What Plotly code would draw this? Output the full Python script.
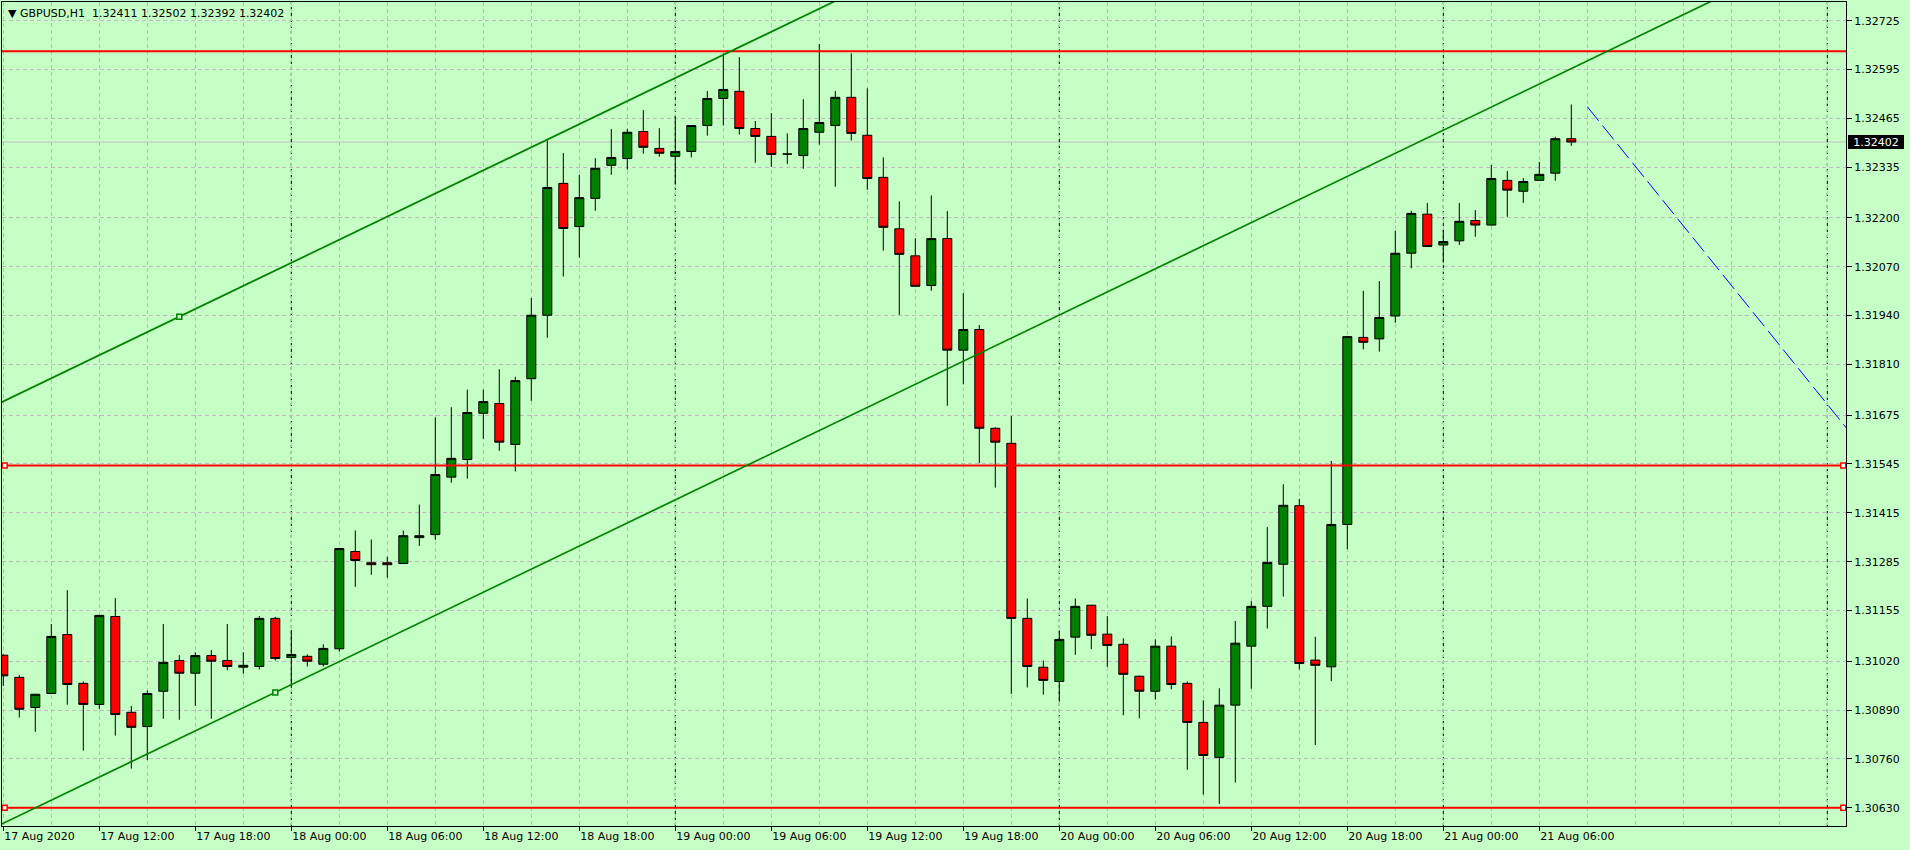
import pandas as pd
import plotly.graph_objects as go

# ---------------- data ----------------
title_text = "\u25BC GBPUSD,H1\u00a0\u00a01.32411 1.32502 1.32392 1.32402"
first_bar_time = "2020-08-17 06:00"

open_ = [1.31036, 1.30977, 1.30897, 1.30934, 1.31091, 1.30961, 1.30905, 1.31139, 1.30884, 1.30846,
         1.30940, 1.31022, 1.30988, 1.31035, 1.31022, 1.31004, 1.31006, 1.31134, 1.31030, 1.31033,
         1.31012, 1.31053, 1.31312, 1.31282, 1.31282, 1.31280, 1.31349, 1.31357, 1.31510, 1.31557,
         1.31680, 1.31706, 1.31597, 1.31772, 1.31941, 1.32292, 1.32177, 1.32252, 1.32340, 1.32358,
         1.32430, 1.32385, 1.32364, 1.32377, 1.32446, 1.32518, 1.32537, 1.32438, 1.32417, 1.32370,
         1.32366, 1.32428, 1.32446, 1.32521, 1.32420, 1.32308, 1.32171, 1.32099, 1.32020, 1.32145,
         1.31848, 1.31903, 1.31640, 1.31600, 1.31134, 1.31004, 1.30966, 1.31084, 1.31169, 1.31092,
         1.31065, 1.30980, 1.30940, 1.31060, 1.30961, 1.30857, 1.30764, 1.30903, 1.31060, 1.31166,
         1.31278, 1.31434, 1.31023, 1.31005, 1.31384, 1.31882, 1.31878, 1.31939, 1.32106, 1.32210,
         1.32128, 1.32139, 1.32193, 1.32181, 1.32300, 1.32271, 1.32300, 1.32319, 1.32411]
high_ = [1.31038, 1.30983, 1.30933, 1.31119, 1.31209, 1.30966, 1.31143, 1.31188, 1.30901, 1.30942,
         1.31119, 1.31036, 1.31044, 1.31050, 1.31119, 1.31044, 1.31140, 1.31138, 1.31103, 1.31038,
         1.31065, 1.31322, 1.31368, 1.31344, 1.31298, 1.31368, 1.31437, 1.31669, 1.31696, 1.31743,
         1.31743, 1.31797, 1.31777, 1.31987, 1.32406, 1.32373, 1.32315, 1.32359, 1.32437, 1.32437,
         1.32487, 1.32439, 1.32471, 1.32447, 1.32538, 1.32638, 1.32628, 1.32458, 1.32479, 1.32425,
         1.32516, 1.32663, 1.32538, 1.32638, 1.32545, 1.32361, 1.32244, 1.32146, 1.32260, 1.32218,
         1.32000, 1.31915, 1.31643, 1.31673, 1.31187, 1.31022, 1.31102, 1.31187, 1.31170, 1.31140,
         1.31081, 1.30982, 1.31078, 1.31086, 1.30966, 1.30916, 1.30948, 1.31127, 1.31180, 1.31377,
         1.31491, 1.31452, 1.31085, 1.31553, 1.31885, 1.32006, 1.32032, 1.32166, 1.32219, 1.32240,
         1.32168, 1.32240, 1.32221, 1.32341, 1.32325, 1.32306, 1.32349, 1.32416, 1.32502]
low_ = [1.30954, 1.30870, 1.30832, 1.30933, 1.30904, 1.30782, 1.30893, 1.30822, 1.30734, 1.30757,
        1.30867, 1.30864, 1.30901, 1.30867, 1.30996, 1.30987, 1.30998, 1.31022, 1.30954, 1.31006,
        1.31006, 1.31045, 1.31218, 1.31250, 1.31242, 1.31279, 1.31327, 1.31343, 1.31495, 1.31506,
        1.31612, 1.31580, 1.31525, 1.31713, 1.31881, 1.32044, 1.32094, 1.32219, 1.32315, 1.32329,
        1.32371, 1.32363, 1.32289, 1.32361, 1.32419, 1.32446, 1.32422, 1.32347, 1.32336, 1.32344,
        1.32331, 1.32395, 1.32283, 1.32406, 1.32275, 1.32113, 1.31942, 1.32017, 1.32006, 1.31700,
        1.31757, 1.31547, 1.31482, 1.30933, 1.30950, 1.30931, 1.30912, 1.31037, 1.31052, 1.31005,
        1.30876, 1.30868, 1.30918, 1.30945, 1.30731, 1.30665, 1.30640, 1.30697, 1.30947, 1.31107,
        1.31192, 1.30998, 1.30797, 1.30967, 1.31318, 1.31850, 1.31844, 1.31921, 1.32066, 1.32123,
        1.32081, 1.32128, 1.32150, 1.32180, 1.32203, 1.32240, 1.32299, 1.32299, 1.32392]
close_ = [1.30981, 1.30892, 1.30932, 1.31086, 1.30958, 1.30905, 1.31142, 1.30878, 1.30844, 1.30934,
          1.31017, 1.30988, 1.31035, 1.31020, 1.31006, 1.31009, 1.31134, 1.31027, 1.31038, 1.31020,
          1.31054, 1.31320, 1.31288, 1.31277, 1.31277, 1.31354, 1.31354, 1.31517, 1.31560, 1.31682,
          1.31711, 1.31603, 1.31767, 1.31941, 1.32281, 1.32172, 1.32254, 1.32332, 1.32361, 1.32428,
          1.32388, 1.32372, 1.32377, 1.32446, 1.32518, 1.32542, 1.32438, 1.32417, 1.32369, 1.32370,
          1.32438, 1.32454, 1.32521, 1.32425, 1.32305, 1.32175, 1.32103, 1.32018, 1.32145, 1.31848,
          1.31903, 1.31640, 1.31603, 1.31134, 1.31006, 1.30969, 1.31078, 1.31166, 1.31089, 1.31062,
          1.30985, 1.30940, 1.31060, 1.30958, 1.30857, 1.30769, 1.30903, 1.31068, 1.31166, 1.31283,
          1.31435, 1.31014, 1.31009, 1.31384, 1.31884, 1.31869, 1.31935, 1.32106, 1.32212, 1.32124,
          1.32137, 1.32191, 1.32181, 1.32305, 1.32274, 1.32297, 1.32316, 1.32411, 1.32402]

x_tick_times = ["2020-08-17 06:00", "2020-08-17 12:00", "2020-08-17 18:00", "2020-08-18 00:00",
                "2020-08-18 06:00", "2020-08-18 12:00", "2020-08-18 18:00", "2020-08-19 00:00",
                "2020-08-19 06:00", "2020-08-19 12:00", "2020-08-19 18:00", "2020-08-20 00:00",
                "2020-08-20 06:00", "2020-08-20 12:00", "2020-08-20 18:00", "2020-08-21 00:00",
                "2020-08-21 06:00"]
x_tick_labels = ["17 Aug 2020", "17 Aug 12:00", "17 Aug 18:00", "18 Aug 00:00", "18 Aug 06:00",
                 "18 Aug 12:00", "18 Aug 18:00", "19 Aug 00:00", "19 Aug 06:00", "19 Aug 12:00",
                 "19 Aug 18:00", "20 Aug 00:00", "20 Aug 06:00", "20 Aug 12:00", "20 Aug 18:00",
                 "21 Aug 00:00", "21 Aug 06:00"]

y_tick_labels = ["1.32725", "1.32595", "1.32465", "1.32335", "1.32200", "1.32070", "1.31940",
                 "1.31810", "1.31675", "1.31545", "1.31415", "1.31285", "1.31155", "1.31020",
                 "1.30890", "1.30760", "1.30630"]
y_tick_values = [float(v) for v in y_tick_labels]

separator_times = ["2020-08-18 00:00", "2020-08-19 00:00", "2020-08-20 00:00",
                   "2020-08-21 00:00", "2020-08-22 00:00"]

hline_levels = [1.32644, 1.31541, 1.30630]
hline_selected = [False, True, True]
hline_anchor_times = ["2020-08-17 06:05", "2020-08-22 01:00"]

upper_channel_times = ["2020-08-17 17:00", "2020-08-19 03:00"]
upper_channel_prices = [1.31937, 1.32634]
lower_channel_times = ["2020-08-17 23:00", "2020-08-21 13:00"]
lower_channel_prices = [1.30937, 1.32700]

blue_line_times = ["2020-08-21 09:00", "2020-08-22 01:00"]
blue_line_prices = [1.32496, 1.31651]

bid_price = 1.32402
bid_label = "1.32402"

x_range = ["2020-08-17 05:55:08", "2020-08-22 01:10:08"]
y_range = [1.305813, 1.327748]

# ---------------- styles ----------------
BG = "#C6FFC6"
GRID = "#C2B8C2"
FONT = "DejaVu Sans"

times = pd.date_range(first_bar_time, periods=len(open_), freq="h")


def extend(t2, p2, t_from, t_to):
    t = pd.to_datetime(t2)
    hours = (t[1] - t[0]).total_seconds() / 3600.0
    slope = (p2[1] - p2[0]) / hours
    tf, tt = pd.Timestamp(t_from), pd.Timestamp(t_to)
    y0 = p2[0] + slope * (tf - t[0]).total_seconds() / 3600.0
    y1 = p2[0] + slope * (tt - t[0]).total_seconds() / 3600.0
    return [tf, tt], [y0, y1]


fig = go.Figure()

fig.add_trace(go.Candlestick(
    x=times, open=open_, high=high_, low=low_, close=close_,
    increasing=dict(line=dict(color="black", width=1), fillcolor="#008000"),
    decreasing=dict(line=dict(color="black", width=1), fillcolor="#FF0000"),
    whiskerwidth=0, showlegend=False, hoverinfo="skip"))

# horizontal red lines
for lvl, sel in zip(hline_levels, hline_selected):
    fig.add_trace(go.Scatter(x=["2020-08-17 00:00", "2020-08-23 00:00"], y=[lvl, lvl],
                             mode="lines", line=dict(color="#FF0000", width=2),
                             showlegend=False, hoverinfo="skip"))
    if sel:
        fig.add_trace(go.Scatter(x=hline_anchor_times, y=[lvl, lvl], mode="markers",
                                 marker=dict(symbol="square", size=5, color="white",
                                             line=dict(color="#FF0000", width=1.5)),
                                 showlegend=False, hoverinfo="skip", cliponaxis=False))

# channel lines
for t2, p2 in [(upper_channel_times, upper_channel_prices), (lower_channel_times, lower_channel_prices)]:
    xs, ys = extend(t2, p2, "2020-08-17 00:00", "2020-08-23 00:00")
    fig.add_trace(go.Scatter(x=xs, y=ys, mode="lines", line=dict(color="#008000", width=1.7),
                             showlegend=False, hoverinfo="skip"))
fig.add_trace(go.Scatter(x=[upper_channel_times[0], lower_channel_times[0]],
                         y=[upper_channel_prices[0], lower_channel_prices[0]], mode="markers",
                         marker=dict(symbol="square", size=5, color=BG,
                                     line=dict(color="#008000", width=1.5)),
                         showlegend=False, hoverinfo="skip"))

# blue dashed ray
xs, ys = extend(blue_line_times, blue_line_prices, blue_line_times[0], "2020-08-23 00:00")
fig.add_trace(go.Scatter(x=xs, y=ys, mode="lines",
                         line=dict(color="#0000FF", width=1, dash="18px,6px"),
                         showlegend=False, hoverinfo="skip"))

# bid line and day separators
fig.add_shape(type="line", xref="paper", x0=0, x1=1, yref="y", y0=bid_price, y1=bid_price,
              line=dict(color="#C0C0C0", width=1), layer="between")
for t in separator_times:
    fig.add_shape(type="line", xref="x", x0=t, x1=t, yref="paper", y0=0, y1=1,
                  line=dict(color="black", width=1, dash="3px,3px"), layer="between")

# title
fig.add_annotation(xref="paper", yref="paper", x=0, y=1, xanchor="left", yanchor="top",
                   xshift=4, yshift=-3, text=title_text, showarrow=False,
                   font=dict(family=FONT, size=11, color="black"))

# bid price label on axis
fig.add_annotation(xref="paper", yref="y", x=1, y=bid_price, xanchor="left", yanchor="middle",
                   xshift=2, text=bid_label, showarrow=False, bgcolor="black",
                   bordercolor="black", borderwidth=1, borderpad=0, width=54, height=12,
                   font=dict(family=FONT, size=11, color="white"))

fig.update_layout(
    width=1910, height=850,
    margin=dict(l=2, r=64, t=2, b=24),
    paper_bgcolor=BG, plot_bgcolor=BG,
    boxgap=0.4375, boxgroupgap=0,
    hovermode=False,
    font=dict(family=FONT, size=11, color="black"),
    xaxis=dict(
        type="date", range=x_range, rangeslider=dict(visible=False),
        tickmode="array", tickvals=x_tick_times, ticktext=x_tick_labels,
        ticks="outside", ticklen=4, tickcolor="black", ticklabelposition="outside right",
        showgrid=True, gridcolor=GRID, griddash="4px,3px", gridwidth=1,
        minor=dict(dtick=3 * 3600 * 1000, tick0=first_bar_time, showgrid=True,
                   gridcolor=GRID, griddash="4px,3px", gridwidth=1),
        showline=True, mirror=True, linecolor="black", linewidth=1,
        zeroline=False, tickfont=dict(family=FONT, size=11, color="black"),
    ),
    yaxis=dict(
        side="right", range=y_range, tickmode="array", tickvals=y_tick_values,
        ticktext=y_tick_labels, ticks="outside", ticklen=5, tickcolor="black",
        showgrid=True, gridcolor=GRID, griddash="4px,3px", gridwidth=1,
        showline=True, mirror=True, linecolor="black", linewidth=1,
        zeroline=False, tickfont=dict(family=FONT, size=11, color="black"),
    ),
)

fig.write_html("out.html", config={"displayModeBar": False},
               post_script="document.body.style.margin='0';document.body.style.overflow='hidden';")
